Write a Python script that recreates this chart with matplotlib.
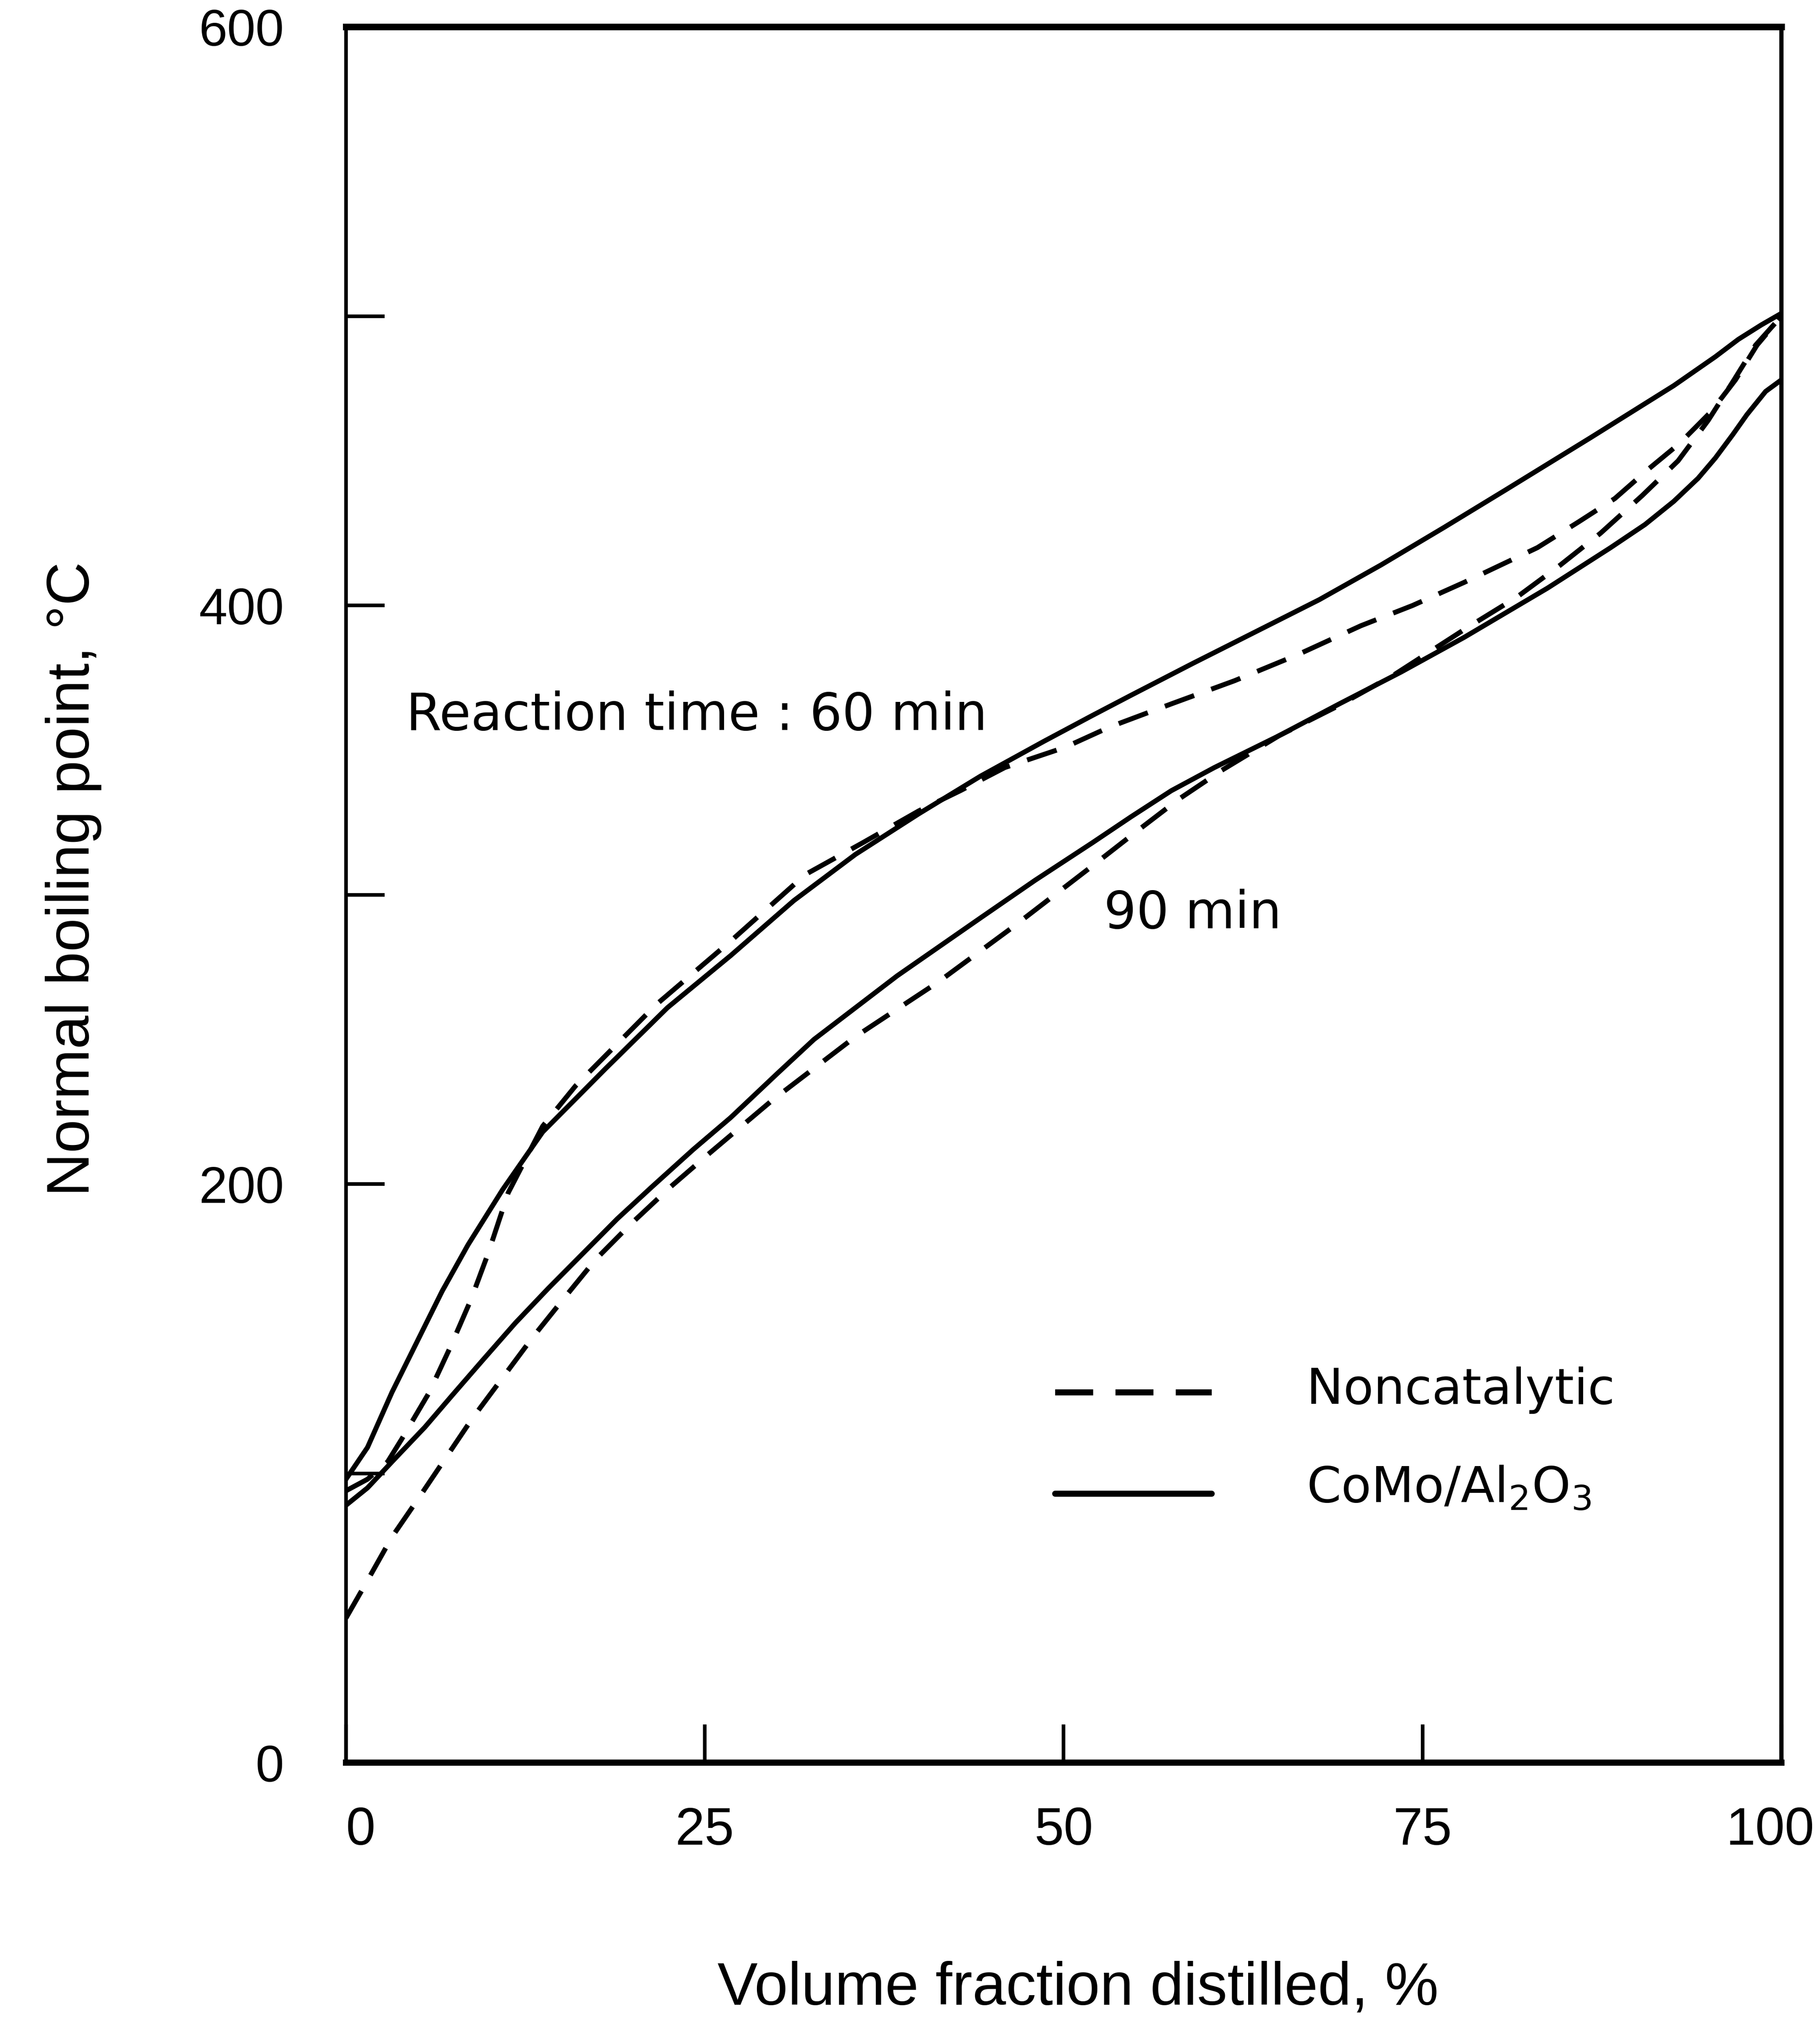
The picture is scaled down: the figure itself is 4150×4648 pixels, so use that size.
import matplotlib
matplotlib.use('Agg')
import matplotlib.pyplot as plt
import matplotlib.transforms as mtransforms
from matplotlib import font_manager

# fonts: narrow one for the axis titles if there is one
names = set(f.name for f in font_manager.fontManager.ttflist)
if 'Liberation Sans Narrow' in names:
    narrow = 'Liberation Sans Narrow'
    label_size = 40
else:
    narrow = 'Liberation Sans'
    label_size = 33

plt.rcParams['font.family'] = ['Liberation Sans', 'DejaVu Sans']
plt.rcParams['mathtext.default'] = 'regular'

# --- data (x = volume % distilled, y = boiling point degC) ---
# 60 min, CoMo/Al2O3
x60_cat = [0, 1.5, 3.2, 5.0, 6.7, 8.5, 10.9, 13.7, 18.1, 22.4, 26.8, 31.2, 35.5,
           39.9, 44.2, 48.6, 52.0, 54.7, 59.0, 63.4, 67.8, 72.1, 76.5, 80.8,
           86.7, 92.5, 95.4, 97.0, 98.6, 100]
y60_cat = [98, 109, 128, 146, 163, 179, 198, 218, 240, 261, 279, 298, 314,
           328, 341, 353, 362, 369, 380, 391, 402, 414, 427, 440,
           458, 476, 486, 492, 497, 501]

# 60 min, noncatalytic
x60_non = [0, 1.5, 2.9, 3.9, 5.8, 7.3, 8.7, 9.9, 11.3, 13.7, 16.0, 21.6, 26.8, 32.0,
           36.0, 39.9, 42.8, 45.9, 50.1, 53.2, 57.5, 61.9, 66.3, 70.7, 74.3, 77.9,
           83.0, 85.9, 88.4, 90.7, 92.9, 95.1, 96.8, 98.3, 100]
y60_non = [94, 98, 104, 112, 128, 144, 160, 176, 197, 220, 234, 262, 284, 307,
           318, 329, 336, 344, 351, 358, 366, 374, 383, 393, 400, 408,
           420, 429, 437, 447, 456, 467, 478, 490, 500]

# 90 min, CoMo/Al2O3
x90_cat = [0, 1.5, 3.2, 5.5, 7.4, 9.5, 11.8, 14.1, 16.5, 18.9, 21.3, 24.2, 26.8,
           30.0, 32.6, 35.5, 38.4, 41.3, 44.2, 48.0, 52.0, 54.7, 57.5, 60.5,
           65.0, 69.2, 73.5, 77.9, 83.7, 88.1, 90.5, 92.5, 94.2, 95.4, 96.6,
           97.6, 98.9, 100]
y90_cat = [89, 95, 104, 116, 127, 139, 152, 164, 176, 188, 199, 212, 223,
           238, 250, 261, 272, 282, 292, 305, 318, 327, 336, 344,
           355, 366, 377, 389, 406, 420, 428, 436, 444, 451, 459,
           466, 474, 478]

# 90 min, noncatalytic
x90_non = [0, 1.5, 3.2, 5.0, 6.9, 8.8, 10.9, 13.0, 15.1, 17.4, 19.8, 22.6, 25.4,
           29.7, 35.5, 41.3, 46.5, 52.0, 55.1, 58.0, 61.0, 65.0, 69.0, 73.0, 78.0,
           81.6, 84.6, 87.4, 90.3, 92.8, 94.9, 96.7, 98.2, 100]
y90_non = [50, 63, 78, 91, 105, 119, 133, 147, 160, 174, 186, 199, 211,
           229, 251, 270, 289, 310, 322, 333, 343, 355, 365, 376, 392,
           403, 414, 425, 438, 450, 464, 478, 490, 500]

x_ticks = [0, 25, 50, 75, 100]
y_ticks = [0, 200, 400, 600]
y_minor = [100, 300, 500]

# legend sample positions (data units)
leg_x = [49.4, 60.3]
leg_y_non = 128
leg_y_cat = 93

dash = (0, (6.3, 3.7))

fig = plt.figure(figsize=(4150 / 300, 4648 / 300), dpi=300)
ax = fig.add_axes([0.1901, 0.1355, 0.7887, 0.8513])

lw = 2.7
ax.plot(x60_cat, y60_cat, color='k', lw=lw, solid_capstyle='round', solid_joinstyle='round')
ax.plot(x60_non, y60_non, color='k', lw=lw, linestyle=dash)
ax.plot(x90_cat, y90_cat, color='k', lw=lw, solid_capstyle='round', solid_joinstyle='round')
ax.plot(x90_non, y90_non, color='k', lw=lw, linestyle=dash)

# hand-made legend
ax.plot(leg_x, [leg_y_non, leg_y_non], color='k', lw=3.3, linestyle=dash)
ax.plot(leg_x, [leg_y_cat, leg_y_cat], color='k', lw=3.3, solid_capstyle='round')
ax.text(66.9, leg_y_non - 4, 'Noncatalytic', fontsize=27, va='baseline', family='DejaVu Sans')
ax.text(66.9, leg_y_cat - 3, r'CoMo/Al$_2$O$_3$', fontsize=27, va='baseline', family='DejaVu Sans')

ax.text(4.2, 357, 'Reaction time : 60 min', fontsize=28, va='baseline', family='DejaVu Sans')
ax.text(52.8, 288.5, '90 min', fontsize=28, va='baseline', family='DejaVu Sans')

ax.set_xlim(0, 100)
ax.set_ylim(0, 600)
ax.set_xticks(x_ticks)
ax.set_xticklabels([str(v) for v in x_ticks])
ax.set_yticks(y_ticks)
ax.set_yticklabels([str(v) for v in y_ticks])
ax.set_yticks(y_minor, minor=True)

ax.tick_params(axis='x', direction='in', length=21, width=2, pad=24, labelsize=29, top=False)
ax.tick_params(axis='y', which='both', direction='in', length=21, width=2, pad=34, labelsize=28, right=False)

# first and last x labels sit a little inside the frame in the original
xt = ax.xaxis.get_major_ticks()
xt[0].label1.set_transform(xt[0].label1.get_transform()
                           + mtransforms.ScaledTranslation(8 / 72, 0, fig.dpi_scale_trans))
xt[-1].label1.set_transform(xt[-1].label1.get_transform()
                            + mtransforms.ScaledTranslation(-6 / 72, 0, fig.dpi_scale_trans))

ax.spines['top'].set_linewidth(3.6)
ax.spines['bottom'].set_linewidth(3.4)
ax.spines['left'].set_linewidth(2.0)
ax.spines['right'].set_linewidth(2.3)

ax.set_xlabel('Volume fraction distilled, %', family=narrow, fontsize=label_size)
ax.set_ylabel('Normal boiling point, \u00b0C', family=narrow, fontsize=label_size)
ax.xaxis.set_label_coords(0.51, -0.114)
ax.yaxis.set_label_coords(-0.170, 0.509)

fig.savefig('out.png', dpi=300, facecolor='white')
